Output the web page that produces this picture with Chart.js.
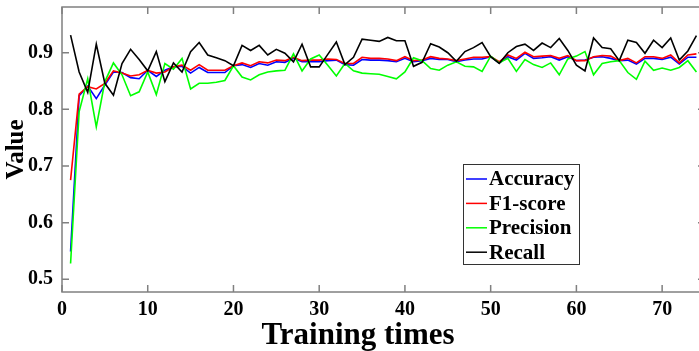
<!DOCTYPE html>
<html>
<head>
<meta charset="utf-8">
<script src="https://cdn.jsdelivr.net/npm/chart.js@4/dist/chart.umd.min.js"></script>
<style>
  html, body { margin: 0; padding: 0; background: #fff; }
  #wrap { width: 699px; height: 351px; overflow: hidden; position: relative; }
  canvas { display: block; }
</style>
</head>
<body>
<div id="wrap"><canvas id="chart" width="712" height="351"></canvas></div>
<script>
// training runs 1..74
const epochs = Array.from({ length: 74 }, (_, i) => i + 1);

const accuracy = [
  0.549, 0.824, 0.841, 0.819, 0.843, 0.866, 0.865, 0.856, 0.854, 0.869,
  0.858, 0.869, 0.875, 0.876, 0.864, 0.874, 0.865, 0.865, 0.865, 0.877,
  0.879, 0.874, 0.881, 0.878, 0.884, 0.883, 0.890, 0.884, 0.884, 0.884,
  0.886, 0.887, 0.879, 0.878, 0.888, 0.887, 0.887, 0.886, 0.884, 0.890,
  0.884, 0.886, 0.890, 0.888, 0.888, 0.884, 0.887, 0.889, 0.889, 0.893,
  0.882, 0.893, 0.887, 0.899, 0.890, 0.891, 0.893, 0.887, 0.893, 0.886,
  0.887, 0.892, 0.893, 0.890, 0.886, 0.887, 0.880, 0.890, 0.890, 0.888,
  0.892, 0.880, 0.892, 0.892
];

const f1score = [
  0.675, 0.827, 0.840, 0.836, 0.846, 0.868, 0.864, 0.859, 0.861, 0.869,
  0.864, 0.866, 0.875, 0.878, 0.869, 0.879, 0.869, 0.869, 0.869, 0.877,
  0.882, 0.877, 0.884, 0.882, 0.887, 0.886, 0.892, 0.886, 0.887, 0.887,
  0.889, 0.888, 0.881, 0.881, 0.892, 0.890, 0.890, 0.889, 0.886, 0.893,
  0.886, 0.887, 0.893, 0.890, 0.889, 0.886, 0.889, 0.892, 0.892, 0.893,
  0.884, 0.896, 0.890, 0.901, 0.893, 0.894, 0.895, 0.890, 0.895, 0.886,
  0.886, 0.893, 0.895, 0.894, 0.886, 0.890, 0.882, 0.893, 0.893, 0.890,
  0.896, 0.882, 0.896, 0.898
];

const precision = [
  0.528, 0.796, 0.854, 0.769, 0.849, 0.882, 0.861, 0.824, 0.831, 0.866,
  0.826, 0.881, 0.871, 0.890, 0.836, 0.846, 0.846, 0.848, 0.851, 0.877,
  0.857, 0.852, 0.861, 0.866, 0.868, 0.869, 0.898, 0.868, 0.889, 0.896,
  0.878, 0.859, 0.881, 0.868, 0.864, 0.863, 0.862, 0.858, 0.854, 0.866,
  0.891, 0.886, 0.872, 0.869, 0.878, 0.884, 0.876, 0.875, 0.867, 0.894,
  0.882, 0.890, 0.867, 0.888, 0.879, 0.874, 0.882, 0.861, 0.889, 0.894,
  0.902, 0.861, 0.881, 0.884, 0.886, 0.865, 0.853, 0.885, 0.869, 0.873,
  0.869, 0.874, 0.886, 0.866
];

const recall = [
  0.931, 0.866, 0.830, 0.915, 0.846, 0.825, 0.881, 0.906, 0.888, 0.868,
  0.902, 0.849, 0.882, 0.866, 0.902, 0.918, 0.896, 0.891, 0.886, 0.877,
  0.913, 0.904, 0.913, 0.896, 0.906, 0.899, 0.884, 0.915, 0.875, 0.875,
  0.897, 0.919, 0.879, 0.892, 0.924, 0.922, 0.920, 0.927, 0.921, 0.921,
  0.876, 0.883, 0.916, 0.910, 0.900, 0.885, 0.902, 0.909, 0.918, 0.893,
  0.881, 0.900, 0.911, 0.915, 0.904, 0.917, 0.909, 0.925, 0.904, 0.878,
  0.868, 0.926, 0.909, 0.907, 0.886, 0.922, 0.918, 0.899, 0.922, 0.909,
  0.926, 0.887, 0.903, 0.930
];

const seriesNames = ["Accuracy", "F1-score", "Precision", "Recall"];
const seriesColors = ["#0000ff", "#ff0000", "#00ff00", "#000000"];

const xTicks = [0, 10, 20, 30, 40, 50, 60, 70];
const yTicks = [0.5, 0.6, 0.7, 0.8, 0.9];

const FONT = "'Liberation Serif', 'Times New Roman', serif";
const AXIS_GREY = "#808080";

function toPoints(vals) {
    return vals.map((v, i) => ({ x: epochs[i], y: v }));
}

// MATLAB-like box with inward ticks on all four sides
const boxPlugin = {
    id: "box",
    afterDatasetsDraw(chart) {
        const { ctx, chartArea: a, scales } = chart;
        const len = 7;
        ctx.save();
        ctx.strokeStyle = AXIS_GREY;
        ctx.lineWidth = 1.5;
        ctx.strokeRect(a.left, a.top, a.right - a.left, a.bottom - a.top);
        ctx.beginPath();
        xTicks.forEach(t => {
            const px = scales.x.getPixelForValue(t);
            ctx.moveTo(px, a.bottom); ctx.lineTo(px, a.bottom - len);
            ctx.moveTo(px, a.top); ctx.lineTo(px, a.top + len);
        });
        yTicks.forEach(t => {
            const py = scales.y.getPixelForValue(t);
            ctx.moveTo(a.left, py); ctx.lineTo(a.left + len, py);
            ctx.moveTo(a.right, py); ctx.lineTo(a.right - len, py);
        });
        ctx.stroke();

        // x axis title (sits left of the axis centre in the original figure)
        ctx.fillStyle = "#000";
        ctx.font = "bold 31px " + FONT;
        ctx.textAlign = "center";
        ctx.textBaseline = "middle";
        ctx.fillText("Training times", 358, 336);
        ctx.restore();
    }
};

const legendPlugin = {
    id: "boxLegend",
    afterDraw(chart) {
        const { ctx } = chart;
        const left = 463, top = 164, w = 116, h = 100;
        ctx.save();
        ctx.fillStyle = "#fff";
        ctx.fillRect(left, top, w, h);
        ctx.strokeStyle = "#333";
        ctx.lineWidth = 1;
        ctx.strokeRect(left + 0.5, top + 0.5, w, h);
        ctx.font = "bold 21px " + FONT;
        ctx.textBaseline = "middle";
        chart.data.datasets.forEach((ds, k) => {
            const y = top + 15 + k * 24.4;
            ctx.strokeStyle = ds.borderColor;
            ctx.lineWidth = 1.5;
            ctx.beginPath();
            ctx.moveTo(left + 3, y);
            ctx.lineTo(left + 24, y);
            ctx.stroke();
            ctx.fillStyle = "#000";
            ctx.fillText(ds.label, left + 26, y + 1);
        });
        ctx.restore();
    }
};

const ctx = document.getElementById("chart");

new Chart(ctx, {
    type: "line",
    data: {
        datasets: [accuracy, f1score, precision, recall].map((vals, k) => ({
            label: seriesNames[k],
            data: toPoints(vals),
            borderColor: seriesColors[k],
            backgroundColor: seriesColors[k],
            borderWidth: 1.6,
            pointRadius: 0,
            tension: 0,
            order: 4 - k
        }))
    },
    options: {
        responsive: false,
        animation: false,
        devicePixelRatio: 1,
        layout: { padding: { left: 0, right: 7, top: 7, bottom: 0 } },
        plugins: {
            legend: { display: false },
            tooltip: { enabled: false }
        },
        scales: {
            x: {
                type: "linear",
                min: 0,
                max: 75,
                afterBuildTicks: s => { s.ticks = xTicks.map(v => ({ value: v })); },
                afterFit: s => { s.height = 59; s.paddingLeft = 0; s.paddingRight = 0; },
                grid: { display: false, drawTicks: false },
                border: { display: false },
                ticks: {
                    color: "#000",
                    padding: 6,
                    maxRotation: 0,
                    font: { family: FONT, size: 20, weight: "bold" }
                }
            },
            y: {
                type: "linear",
                min: 0.4776,
                max: 0.9807,
                afterBuildTicks: s => { s.ticks = yTicks.map(v => ({ value: v })); },
                afterFit: s => { s.width = 62; s.paddingTop = 0; s.paddingBottom = 0; },
                grid: { display: false, drawTicks: false },
                border: { display: false },
                ticks: {
                    color: "#000",
                    padding: 9,
                    font: { family: FONT, size: 20, weight: "bold" },
                    callback: v => v.toFixed(1)
                },
                title: {
                    display: true,
                    text: "Value",
                    color: "#000",
                    padding: { top: 2, bottom: 0 },
                    font: { family: FONT, size: 25, weight: "bold" }
                }
            }
        }
    },
    plugins: [boxPlugin, legendPlugin]
});
</script>
</body>
</html>
